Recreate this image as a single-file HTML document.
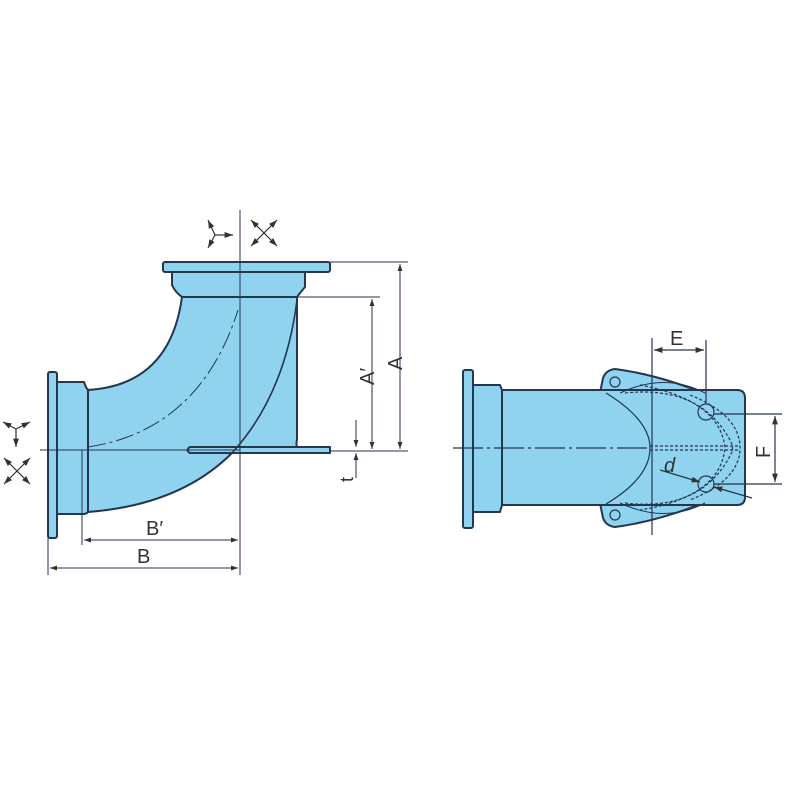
<!DOCTYPE html>
<html><head><meta charset="utf-8"><style>html,body{margin:0;padding:0;background:#fff}svg{display:block}</style></head>
<body>
<svg width="800" height="800" viewBox="0 0 800 800" xmlns="http://www.w3.org/2000/svg" font-family="Liberation Sans, sans-serif">
<defs>
<marker id="ar" viewBox="0 0 10 10" refX="10" refY="5" markerWidth="7" markerHeight="7" orient="auto-start-reverse"><path d="M0,1.5 L10,5 L0,8.5 z" fill="#333"/></marker>
</defs>
<g stroke="#243650" stroke-width="2" fill="#8fd3ef" stroke-linejoin="round">
<!-- Left elbow -->
<path d="M88,390 Q170,385 182,297 L297,297 L297,440 Q295,448 300,447 L240,447 L192,447 Q188,450 192,453 L232,453 Q180,505 88,512 Z"/>
<path d="M172,272 L305,272 L305,287 Q300,293 297,297 L182,297 Q175,292 172,285 Z"/>
<rect x="163" y="262" width="167" height="10" rx="2"/>
<path d="M190,447 L330,447 L330,453 L190,453 Q185,450 190,447 Z"/>
<path d="M57,382 L84,382 Q86,388 88,390 L88,512 Q86,514 84,514 L57,514 Z"/>
<rect x="48" y="372" width="9" height="166" rx="2"/>
</g>
<g stroke="#243650" stroke-width="1" fill="none">
<path d="M232,453 Q285,395 297,300" stroke-width="1.6"/>
<path d="M88,447 Q200,430 238,310" stroke-dasharray="18,4,3,4"/>
<line x1="240" y1="210" x2="240" y2="575"/>
<line x1="40" y1="450" x2="240" y2="450"/>
<line x1="82" y1="450" x2="82" y2="545"/>
<line x1="48" y1="538" x2="48" y2="575"/>
<line x1="330" y1="262" x2="408" y2="262"/>
<line x1="330" y1="451" x2="408" y2="451"/>
<line x1="245" y1="297" x2="380" y2="297"/>
<line x1="400" y1="264" x2="400" y2="449" marker-start="url(#ar)" marker-end="url(#ar)"/>
<line x1="372" y1="299" x2="372" y2="449" marker-start="url(#ar)" marker-end="url(#ar)"/>
<line x1="356" y1="420" x2="356" y2="447" marker-end="url(#ar)"/>
<line x1="356" y1="478" x2="356" y2="453" marker-end="url(#ar)"/>
<line x1="84" y1="540" x2="238" y2="540" marker-start="url(#ar)" marker-end="url(#ar)"/>
<line x1="50" y1="568" x2="238" y2="568" marker-start="url(#ar)" marker-end="url(#ar)"/>
</g>
<g font-size="20" fill="#333">
<text x="146" y="535">B′</text>
<text x="137" y="563">B</text>
<text transform="translate(402,370) rotate(-90)">A</text>
<text transform="translate(374,385) rotate(-90)">A′</text>
<text transform="translate(353,482) rotate(-90)" font-size="18">t</text>
</g>
<g stroke="#333" stroke-width="1.2" fill="none">
<g transform="translate(215,235)"><line x1="0" y1="0" x2="18" y2="0" marker-end="url(#ar)"/><line x1="0" y1="0" x2="-7" y2="-15" marker-end="url(#ar)"/><line x1="0" y1="0" x2="-7" y2="13" marker-end="url(#ar)"/></g>
<g transform="translate(264,233)"><line x1="-13" y1="-13" x2="13" y2="13" marker-start="url(#ar)" marker-end="url(#ar)"/><line x1="13" y1="-13" x2="-13" y2="13" marker-start="url(#ar)" marker-end="url(#ar)"/></g>
<g transform="translate(16,429)"><line x1="0" y1="0" x2="0" y2="18" marker-end="url(#ar)"/><line x1="0" y1="0" x2="-13" y2="-7" marker-end="url(#ar)"/><line x1="0" y1="0" x2="14" y2="-7" marker-end="url(#ar)"/></g>
<g transform="translate(17,471)"><line x1="-13" y1="-13" x2="13" y2="13" marker-start="url(#ar)" marker-end="url(#ar)"/><line x1="13" y1="-13" x2="-13" y2="13" marker-start="url(#ar)" marker-end="url(#ar)"/></g>
</g>
<!-- Right view -->
<g stroke="#243650" stroke-width="2" fill="#8fd3ef" stroke-linejoin="round">
<path d="M600,393 L603,378 Q606,370 615,369 Q660,375 708,395 Z"/>
<path d="M600,503 L603,518 Q606,526 615,527 Q660,521 708,501 Z"/>
<path d="M502,390 L737,390 Q745,390 745,398 L745,497 Q745,505 737,505 L502,505 Z"/>
<path d="M473,385 L500,385 L502,390 L502,505 L500,512 L473,512 Z"/>
<rect x="463" y="370" width="10" height="158" rx="2"/>
</g>
<g stroke="#243650" stroke-width="1.2" fill="none">
<circle cx="615" cy="382" r="5"/><circle cx="615" cy="515" r="5"/>
<path d="M606,393 Q650,420 650,448 Q650,478 606,504"/>
<path d="M620,393 Q665,372 705,393" stroke-width="1"/>
<path d="M620,503 Q665,524 705,503" stroke-width="1"/>
<circle cx="706" cy="412" r="8"/><circle cx="706" cy="484" r="8"/>
<g stroke-dasharray="3,2">
<path d="M625,393 Q700,385 730,440 Q735,448 730,456 Q700,512 625,503"/>
<path d="M640,385 Q720,400 725,448 Q720,497 640,510"/>
<path d="M690,395 Q740,415 740,448 Q740,480 690,500"/>
<line x1="650" y1="446" x2="740" y2="446"/><line x1="650" y1="450" x2="740" y2="450"/>
</g>
<line x1="453" y1="448" x2="650" y2="448" stroke-dasharray="30,4,3,4"/>
<line x1="652" y1="338" x2="652" y2="535"/>
<line x1="706" y1="340" x2="706" y2="404"/>
<line x1="654" y1="350" x2="704" y2="350" marker-start="url(#ar)" marker-end="url(#ar)"/>
<line x1="714" y1="414" x2="782" y2="414"/><line x1="714" y1="484" x2="782" y2="484"/>
<line x1="775" y1="416" x2="775" y2="482" marker-start="url(#ar)" marker-end="url(#ar)"/>
<line x1="660" y1="470" x2="700" y2="482" marker-end="url(#ar)"/>
<line x1="752" y1="498" x2="714" y2="487" marker-end="url(#ar)"/>
</g>
<g font-size="20" fill="#333">
<text x="670" y="345">E</text>
<text transform="translate(770,458) rotate(-90)">F</text>
<text x="664" y="472" font-style="italic">d</text>
</g>
</svg>
</body></html>
